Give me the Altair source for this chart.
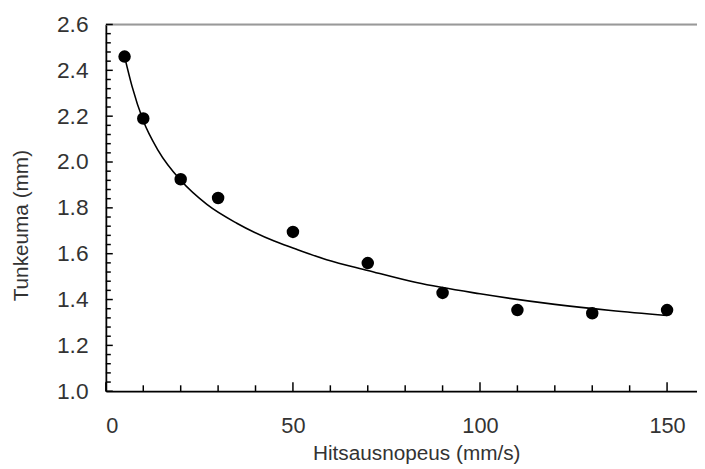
import altair as alt
import pandas as pd

# measured points
speed = [5, 10, 20, 30, 50, 70, 90, 110, 130, 150]
depth = [2.46, 2.19, 1.925, 1.843, 1.695, 1.559, 1.429, 1.354, 1.34, 1.354]

# fitted curve
curve_x = [5, 7, 10, 14, 20, 27, 35, 45, 50, 59, 70, 83, 100, 120, 135, 150]
curve_y = [2.46, 2.33, 2.18, 2.05, 1.92, 1.815, 1.733, 1.655, 1.625, 1.574, 1.527,
           1.474, 1.425, 1.379, 1.352, 1.33]

x_major = [0, 50, 100, 150]
x_minor = [10, 20, 30, 40, 60, 70, 80, 90, 110, 120, 130, 140]
y_major = [1.0, 1.2, 1.4, 1.6, 1.8, 2.0, 2.2, 2.4, 2.6]
y_minor = [round(1.0 + 0.04 * i, 2) for i in range(41) if i % 5 != 0]

W, H = 598, 371
FONT = "Liberation Sans"

pts = pd.DataFrame({"x": speed, "y": depth})
crv = pd.DataFrame({"x": curve_x, "y": curve_y})

xs = alt.Scale(domain=[0, 158], nice=False, zero=False)
ys = alt.Scale(domain=[1.0, 2.6], nice=False, zero=False)

xaxis = alt.Axis(values=x_major, format="d", grid=False, ticks=False,
                 domainColor="black", domainWidth=1.8,
                 labelFont=FONT, labelFontSize=22, labelColor="#333",
                 labelPadding=25,
                 title="Hitsausnopeus (mm/s)", titleFont=FONT, titleFontSize=21,
                 titleFontWeight="normal", titleColor="#333",
                 titleX=314, titleY=69, titleBaseline="alphabetic", titleAnchor="middle")
yaxis = alt.Axis(values=y_major, format=".1f", grid=False, ticks=False,
                 domainColor="black", domainWidth=1.8,
                 labelFont=FONT, labelFontSize=23, labelColor="#333",
                 labelPadding=18,
                 title="Tunkeuma (mm)", titleFont=FONT, titleFontSize=21,
                 titleFontWeight="normal", titleColor="#333",
                 titleX=-79, titleY=203, titleBaseline="alphabetic", titleAngle=-90,
                 titleAlign="center")

line = alt.Chart(crv).mark_line(color="black", strokeWidth=1.6, interpolate="monotone").encode(
    x=alt.X("x:Q", scale=xs, axis=xaxis),
    y=alt.Y("y:Q", scale=ys, axis=yaxis),
)
dots = alt.Chart(pts).mark_circle(color="black", opacity=1, size=160).encode(
    x=alt.X("x:Q", scale=xs),
    y=alt.Y("y:Q", scale=ys),
)

xt_major = alt.Chart(pd.DataFrame({"x": x_major})).mark_rule(color="black", strokeWidth=1.5).encode(
    x=alt.X("x:Q", scale=xs), y=alt.value(H), y2=alt.value(H - 9))
xt_minor = alt.Chart(pd.DataFrame({"x": x_minor})).mark_rule(color="black", strokeWidth=1.5).encode(
    x=alt.X("x:Q", scale=xs), y=alt.value(H), y2=alt.value(H - 6))
yt_major = alt.Chart(pd.DataFrame({"y": y_major})).mark_rule(color="black", strokeWidth=1.5).encode(
    y=alt.Y("y:Q", scale=ys), x=alt.value(0), x2=alt.value(7))
yt_minor = alt.Chart(pd.DataFrame({"y": y_minor})).mark_rule(color="black", strokeWidth=1.5).encode(
    y=alt.Y("y:Q", scale=ys), x=alt.value(0), x2=alt.value(5))
top = alt.Chart(pd.DataFrame({"y": [2.6]})).mark_rule(color="#999", strokeWidth=2).encode(
    y=alt.Y("y:Q", scale=ys), x=alt.value(0), x2=alt.value(W))

chart = alt.layer(top, xt_major, xt_minor, yt_major, yt_minor, line, dots).properties(
    width=W, height=H,
    padding={"left": 99, "top": 14, "right": 0, "bottom": 76},
    autosize=alt.AutoSizeParams(type="none"),
).configure_view(stroke=None).configure(background="white")

chart.save("out.html", embed_options={"renderer": "svg", "actions": False})
